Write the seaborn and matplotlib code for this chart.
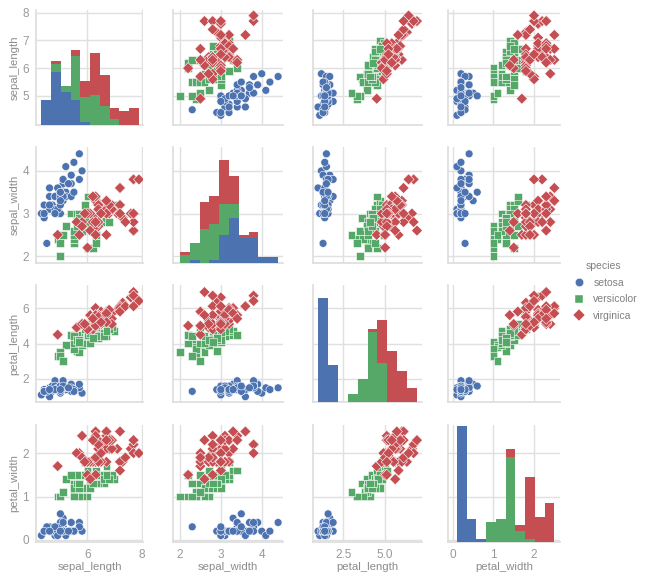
import matplotlib
matplotlib.use("Agg")
import matplotlib.pyplot as plt
import pandas as pd
import seaborn as sns

# iris measurements, 50 rows per species
sepal_length = [
    5.1, 4.9, 4.7, 4.6, 5.0, 5.4, 4.6, 5.0, 4.4, 4.9, 5.4, 4.8, 4.8, 4.3, 5.8, 5.7, 5.4, 5.1, 5.7, 5.1, 5.4, 5.1, 4.6, 5.1, 4.8,
    5.0, 5.0, 5.2, 5.2, 4.7, 4.8, 5.4, 5.2, 5.5, 4.9, 5.0, 5.5, 4.9, 4.4, 5.1, 5.0, 4.5, 4.4, 5.0, 5.1, 4.8, 5.1, 4.6, 5.3, 5.0,
    7.0, 6.4, 6.9, 5.5, 6.5, 5.7, 6.3, 4.9, 6.6, 5.2, 5.0, 5.9, 6.0, 6.1, 5.6, 6.7, 5.6, 5.8, 6.2, 5.6, 5.9, 6.1, 6.3, 6.1, 6.4,
    6.6, 6.8, 6.7, 6.0, 5.7, 5.5, 5.5, 5.8, 6.0, 5.4, 6.0, 6.7, 6.3, 5.6, 5.5, 5.5, 6.1, 5.8, 5.0, 5.6, 5.7, 5.7, 6.2, 5.1, 5.7,
    6.3, 5.8, 7.1, 6.3, 6.5, 7.6, 4.9, 7.3, 6.7, 7.2, 6.5, 6.4, 6.8, 5.7, 5.8, 6.4, 6.5, 7.7, 7.7, 6.0, 6.9, 5.6, 7.7, 6.3, 6.7,
    7.2, 6.2, 6.1, 6.4, 7.2, 7.4, 7.9, 6.4, 6.3, 6.1, 7.7, 6.3, 6.4, 6.0, 6.9, 6.7, 6.9, 5.8, 6.8, 6.7, 6.7, 6.3, 6.5, 6.2, 5.9,
]
sepal_width = [
    3.5, 3.0, 3.2, 3.1, 3.6, 3.9, 3.4, 3.4, 2.9, 3.1, 3.7, 3.4, 3.0, 3.0, 4.0, 4.4, 3.9, 3.5, 3.8, 3.8, 3.4, 3.7, 3.6, 3.3, 3.4,
    3.0, 3.4, 3.5, 3.4, 3.2, 3.1, 3.4, 4.1, 4.2, 3.1, 3.2, 3.5, 3.6, 3.0, 3.4, 3.5, 2.3, 3.2, 3.5, 3.8, 3.0, 3.8, 3.2, 3.7, 3.3,
    3.2, 3.2, 3.1, 2.3, 2.8, 2.8, 3.3, 2.4, 2.9, 2.7, 2.0, 3.0, 2.2, 2.9, 2.9, 3.1, 3.0, 2.7, 2.2, 2.5, 3.2, 2.8, 2.5, 2.8, 2.9,
    3.0, 2.8, 3.0, 2.9, 2.6, 2.4, 2.4, 2.7, 2.7, 3.0, 3.4, 3.1, 2.3, 3.0, 2.5, 2.6, 3.0, 2.6, 2.3, 2.7, 3.0, 2.9, 2.9, 2.5, 2.8,
    3.3, 2.7, 3.0, 2.9, 3.0, 3.0, 2.5, 2.9, 2.5, 3.6, 3.2, 2.7, 3.0, 2.5, 2.8, 3.2, 3.0, 3.8, 2.6, 2.2, 3.2, 2.8, 2.8, 2.7, 3.3,
    3.2, 2.8, 3.0, 2.8, 3.0, 2.8, 3.8, 2.8, 2.8, 2.6, 3.0, 3.4, 3.1, 3.0, 3.1, 3.1, 3.1, 2.7, 3.2, 3.3, 3.0, 2.5, 3.0, 3.4, 3.0,
]
petal_length = [
    1.4, 1.4, 1.3, 1.5, 1.4, 1.7, 1.4, 1.5, 1.4, 1.5, 1.5, 1.6, 1.4, 1.1, 1.2, 1.5, 1.3, 1.4, 1.7, 1.5, 1.7, 1.5, 1.0, 1.7, 1.9,
    1.6, 1.6, 1.5, 1.4, 1.6, 1.6, 1.5, 1.5, 1.4, 1.5, 1.2, 1.3, 1.4, 1.3, 1.5, 1.3, 1.3, 1.3, 1.6, 1.9, 1.4, 1.6, 1.4, 1.5, 1.4,
    4.7, 4.5, 4.9, 4.0, 4.6, 4.5, 4.7, 3.3, 4.6, 3.9, 3.5, 4.2, 4.0, 4.7, 3.6, 4.4, 4.5, 4.1, 4.5, 3.9, 4.8, 4.0, 4.9, 4.7, 4.3,
    4.4, 4.8, 5.0, 4.5, 3.5, 3.8, 3.7, 3.9, 5.1, 4.5, 4.5, 4.7, 4.4, 4.1, 4.0, 4.4, 4.6, 4.0, 3.3, 4.2, 4.2, 4.2, 4.3, 3.0, 4.1,
    6.0, 5.1, 5.9, 5.6, 5.8, 6.6, 4.5, 6.3, 5.8, 6.1, 5.1, 5.3, 5.5, 5.0, 5.1, 5.3, 5.5, 6.7, 6.9, 5.0, 5.7, 4.9, 6.7, 4.9, 5.7,
    6.0, 4.8, 4.9, 5.6, 5.8, 6.1, 6.4, 5.6, 5.1, 5.6, 6.1, 5.6, 5.5, 4.8, 5.4, 5.6, 5.1, 5.1, 5.9, 5.7, 5.2, 5.0, 5.2, 5.4, 5.1,
]
petal_width = [
    0.2, 0.2, 0.2, 0.2, 0.2, 0.4, 0.3, 0.2, 0.2, 0.1, 0.2, 0.2, 0.1, 0.1, 0.2, 0.4, 0.4, 0.3, 0.3, 0.3, 0.2, 0.4, 0.2, 0.5, 0.2,
    0.2, 0.4, 0.2, 0.2, 0.2, 0.2, 0.4, 0.1, 0.2, 0.2, 0.2, 0.2, 0.1, 0.2, 0.2, 0.3, 0.3, 0.2, 0.6, 0.4, 0.3, 0.2, 0.2, 0.2, 0.2,
    1.4, 1.5, 1.5, 1.3, 1.5, 1.3, 1.6, 1.0, 1.3, 1.4, 1.0, 1.5, 1.0, 1.4, 1.3, 1.4, 1.5, 1.0, 1.5, 1.1, 1.8, 1.3, 1.5, 1.2, 1.3,
    1.4, 1.4, 1.7, 1.5, 1.0, 1.1, 1.0, 1.2, 1.6, 1.5, 1.6, 1.5, 1.3, 1.3, 1.3, 1.2, 1.4, 1.2, 1.0, 1.3, 1.2, 1.3, 1.3, 1.1, 1.3,
    2.5, 1.9, 2.1, 1.8, 2.2, 2.1, 1.7, 1.8, 1.8, 2.5, 2.0, 1.9, 2.1, 2.0, 2.4, 2.3, 1.8, 2.2, 2.3, 1.5, 2.3, 2.0, 2.0, 1.8, 2.1,
    1.8, 1.8, 1.8, 2.1, 1.6, 1.9, 2.0, 2.2, 1.5, 1.4, 2.3, 2.4, 1.8, 1.8, 2.1, 2.4, 2.3, 1.9, 2.3, 2.5, 2.3, 1.9, 2.0, 2.3, 1.8,
]
species = ["setosa"] * 50 + ["versicolor"] * 50 + ["virginica"] * 50
colors = {"setosa": "#4C72B0", "versicolor": "#55A868", "virginica": "#C44E52"}

df = pd.DataFrame({
    "sepal_length": sepal_length,
    "sepal_width": sepal_width,
    "petal_length": petal_length,
    "petal_width": petal_width,
    "species": species,
})

sns.set_theme(style="whitegrid", rc={
    "font.family": ["Liberation Sans", "DejaVu Sans"],
    "axes.labelsize": 8.2,
    "axes.labelcolor": ".55",
    "xtick.labelsize": 8.5,
    "ytick.labelsize": 8.5,
    "xtick.color": ".6",
    "ytick.color": ".6",
    "text.color": ".5",
    "grid.color": ".88",
    "axes.edgecolor": ".87",
})

g = sns.pairplot(
    df, hue="species", palette=colors, markers=["o", "s", "D"], diag_kind="hist",
    plot_kws=dict(s=32, edgecolor="white", linewidth=0.4),
    diag_kws=dict(multiple="stack", bins=10, alpha=1, linewidth=0, element="step",
                  hue_order=["virginica", "versicolor", "setosa"]),
)
fig = g.figure
fig.set_size_inches(6.52, 5.81)

# pixel boxes of the panels in the 652x581 image
lefts = [36, 173, 313, 448]
rights = [143, 283, 422, 560]
tops = [10, 147, 285, 425]
bottoms = [125, 263, 402, 542]

for r in range(4):
    for c in range(4):
        box = [lefts[c] / 652, 1 - bottoms[r] / 581, (rights[c] - lefts[c]) / 652, (bottoms[r] - tops[r]) / 581]
        g.axes[r, c].set_position(box)
        if r == c:
            g.diag_axes[r].set_position(box)
            g.diag_axes[r].set_ylim(0, 41.5)
            g.diag_axes[r].grid(False)

limits = [(4.1, 8.05), (1.83, 4.52), (0.7, 7.2), (-0.12, 2.64)]
ylimits = [(3.95, 8.1), (1.84, 4.56), (0.7, 7.3), (-0.05, 2.65)]
xticks = [[6, 8], [2, 3, 4], [2.5, 5.0], [0, 1, 2]]
yticks = [[5, 6, 7, 8], [2, 3, 4], [2, 4, 6], [0, 1, 2]]
for i in range(4):
    g.axes[3, i].set_xlim(limits[i])
    g.axes[3, i].set_xticks(xticks[i])
    g.axes[i, 0].set_ylim(ylimits[i])
    g.axes[i, 0].set_yticks(yticks[i])

for ax in g.axes.flat:
    ax.tick_params(length=0, pad=5)
    ax.xaxis.labelpad = 1
    ax.yaxis.labelpad = 2

leg = g.legend
leg.remove()
handles = [plt.Line2D([], [], marker=m, linestyle="", color=colors[s], markersize=6, markeredgecolor="white", markeredgewidth=0.3)
           for m, s in zip(["o", "s", "D"], colors)]
leg = fig.legend(handles, list(colors), title="species", loc="center left", frameon=False,
                 bbox_to_anchor=(559 / 652, 1 - 291 / 581), fontsize=7.5, title_fontsize=7.5,
                 handletextpad=0.4, labelspacing=0.62)

fig.savefig("out.png", dpi=100)
